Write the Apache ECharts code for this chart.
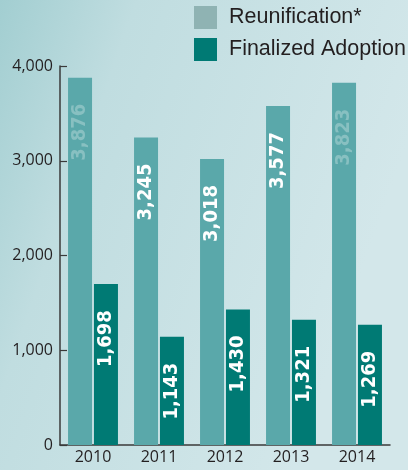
<!DOCTYPE html>
<html>
<head>
<meta charset="utf-8">
<script src="https://cdn.jsdelivr.net/npm/echarts@6/dist/echarts.min.js"></script>
<style>
  html, body { margin: 0; padding: 0; }
  #main { width: 408px; height: 470px; }
</style>
</head>
<body>
<div id="main"></div>
<script>
// years on the x axis
const years = ['2010', '2011', '2012', '2013', '2014'];
// reunification counts
const reunification = [3876, 3245, 3018, 3577, 3823];
// finalized adoption counts
const adoption = [1698, 1143, 1430, 1321, 1269];
// labels drawn faded on these years
const fadedYears = ['2010', '2014'];
const yTicks = [0, 1000, 2000, 3000, 4000];

const fmt = v => v.toLocaleString('en-US');

const chart = echarts.init(document.getElementById('main'));

const barLabel = {
  show: true,
  position: 'insideTop',
  rotate: 90,
  align: 'right',
  verticalAlign: 'middle',
  distance: 26,
  color: '#ffffff',
  fontFamily: 'DejaVu Sans Condensed',
  fontWeight: 'bold',
  fontSize: 20,
  formatter: p => fmt(p.value)
};

chart.setOption({
  backgroundColor: {
    type: 'linear', x: 0, y: 0, x2: 1, y2: 0.3,
    colorStops: [
      { offset: 0, color: '#a2ced1' },
      { offset: 0.3, color: '#c0dde0' },
      { offset: 1, color: '#d3e7ea' }
    ]
  },
  animation: false,
  legend: {
    orient: 'vertical',
    left: 194,
    top: 6,
    padding: 0,
    itemWidth: 23,
    itemHeight: 23,
    itemGap: 9,
    icon: 'rect',
    textStyle: {
      fontFamily: 'Liberation Sans',
      fontSize: 21.5,
      color: '#231f20',
      padding: [0, 0, 0, 7]
    },
    data: [
      { name: 'Reunification*', itemStyle: { color: '#8fb3b3' } },
      { name: 'Finalized Adoption', itemStyle: { color: '#007a74' } }
    ]
  },
  grid: { left: 60, right: 18, top: 66, bottom: 25 },
  xAxis: {
    type: 'category',
    data: years,
    axisLine: { lineStyle: { color: '#3a3a3a', width: 1.5 } },
    axisTick: { inside: true, length: 13, lineStyle: { color: '#3a3a3a', width: 1.2 } },
    axisLabel: { color: '#231f20', fontFamily: 'Open Sans', fontSize: 16, margin: 4 }
  },
  yAxis: {
    type: 'value',
    min: yTicks[0],
    max: yTicks[yTicks.length - 1],
    interval: 1000,
    splitLine: { show: false },
    axisLine: { show: true, lineStyle: { color: '#3a3a3a', width: 1.5 } },
    axisTick: { show: true, inside: true, length: 7, lineStyle: { color: '#3a3a3a', width: 1.2 } },
    axisLabel: { color: '#231f20', fontFamily: 'Open Sans', fontSize: 16, margin: 7, formatter: fmt }
  },
  series: [
    {
      name: 'Reunification*',
      type: 'bar',
      barWidth: 24,
      barGap: '8%',
      itemStyle: { color: '#5aa8aa' },
      label: barLabel,
      data: reunification.map((v, i) => fadedYears.includes(years[i])
        ? { value: v, label: { color: 'rgba(255,255,255,0.28)' } }
        : v)
    },
    {
      name: 'Finalized Adoption',
      type: 'bar',
      barWidth: 24,
      itemStyle: { color: '#007a74' },
      label: barLabel,
      data: adoption
    }
  ]
});
</script>
</body>
</html>
